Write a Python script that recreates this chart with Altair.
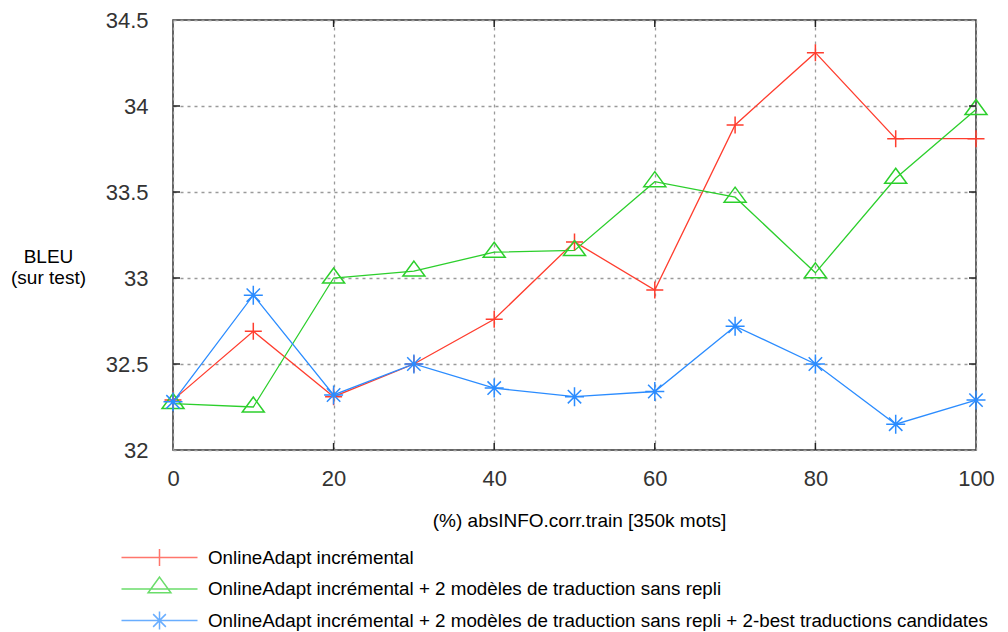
import altair as alt
import pandas as pd

# ---------------- data ----------------
pct = [0, 10, 20, 30, 40, 50, 60, 70, 80, 90, 100]
series_names = [
    "OnlineAdapt incrémental",
    "OnlineAdapt incrémental + 2 modèles de traduction sans repli",
    "OnlineAdapt incrémental + 2 modèles de traduction sans repli + 2-best traductions candidates",
]
bleu_red = [32.29, 32.69, 32.31, 32.50, 32.76, 33.21, 32.93, 33.89, 34.31, 33.81, 33.81]
bleu_green = [32.27, 32.25, 33.00, 33.04, 33.15, 33.16, 33.56, 33.47, 33.03, 33.58, 33.98]
bleu_blue = [32.28, 32.90, 32.32, 32.50, 32.36, 32.31, 32.34, 32.72, 32.50, 32.15, 32.29]
colors = ["#ff3d2e", "#2ccf2c", "#2b8cff"]

x_ticks = [0, 20, 40, 60, 80, 100]
y_ticks = [32, 32.5, 33, 33.5, 34, 34.5]
x_grid = [20, 40, 60, 80]
y_grid = [32.5, 33, 33.5, 34]

x_title = "(%) absINFO.corr.train [350k mots]"
y_title = ["BLEU", "(sur test)"]

# marker shapes (gnuplot style: plus, open triangle, asterisk)
marker_paths = [
    "M-0.85,0H0.85M0,-0.85V0.85",
    "M0,-1.0L1.1,0.5L-1.1,0.5Z",
    "M0,-0.95V0.95M-0.95,0H0.95M-0.67,-0.67L0.67,0.67M-0.67,0.67L0.67,-0.67",
]
pad = "M0,-1.25M0,1.25"
legend_paths = [
    pad + "M-4,0H4M0,-0.9V0.9",
    pad + "M-4,0H4M0,-1.25L1.2,0.4L-1.2,0.4Z",
    pad + "M-4,0H4M0,-0.95V0.95M-0.67,-0.67L0.67,0.67M-0.67,0.67L0.67,-0.67",
]

rows = []
for name, vals in zip(series_names, [bleu_red, bleu_green, bleu_blue]):
    for p, v in zip(pct, vals):
        rows.append({"pct": p, "bleu": v, "serie": name})
df = pd.DataFrame(rows)

FONT = "Liberation Sans"
W, H = 803, 430

xs = alt.Scale(domain=[0, 100], nice=False)
ys = alt.Scale(domain=[32, 34.5], nice=False, zero=False)
cs = alt.Scale(domain=series_names, range=colors)

x_axis = alt.Axis(
    values=x_ticks, ticks=False, domain=False, grid=True, labelFlush=False,
    gridDash=[3, 4], gridColor="#9a9a9a", gridWidth=1.3,
    labelFontSize=22, labelColor="#333333", labelPadding=18, labelFont=FONT,
    title=x_title, titleFontSize=19, titleFont=FONT, titleFontWeight="normal",
    titleColor="#000000", titleX=406, titleY=70, titleBaseline="middle", titleAlign="center",
)
y_axis = alt.Axis(
    values=y_ticks, format="~g", ticks=False, domain=False, grid=True, labelFlush=False,
    gridDash=[3, 4], gridColor="#9a9a9a", gridWidth=1.3,
    labelFontSize=22, labelColor="#333333", labelPadding=25, labelFont=FONT,
    title=y_title, titleFontSize=19, titleFont=FONT, titleFontWeight="normal",
    titleColor="#000000", titleAngle=0, titleX=-125, titleY=236,
    titleAlign="center", titleBaseline="middle", titleLineHeight=21,
)

base = alt.Chart(df)

layers = []
for i, (name, col) in enumerate(zip(series_names, colors)):
    sub = base.transform_filter(alt.datum.serie == name)
    if i == 0:
        xenc = alt.X("pct:Q", scale=xs, axis=x_axis)
        yenc = alt.Y("bleu:Q", scale=ys, axis=y_axis)
    else:
        xenc = alt.X("pct:Q", scale=xs)
        yenc = alt.Y("bleu:Q", scale=ys)
    layers.append(sub.mark_line(strokeWidth=1.3, color=col).encode(x=xenc, y=yenc))
for name, col, path in zip(series_names, colors, marker_paths):
    sub = base.transform_filter(alt.datum.serie == name)
    layers.append(
        sub.mark_point(shape=path, size=400, strokeWidth=1.5, filled=False,
                       opacity=1, color=col)
        .encode(x=alt.X("pct:Q", scale=xs), y=alt.Y("bleu:Q", scale=ys))
    )

leg = alt.Legend(
    title=None, orient="none", legendX=-24, legendY=527,
    symbolSize=361, symbolStrokeWidth=1.5, symbolOffset=0,
    labelFont=FONT, labelFontSize=18.8, labelColor="#000000", labelLimit=1000,
    labelOffset=38, rowPadding=0.5, padding=0,
)
legend_carrier = (
    base.transform_filter("false")
    .mark_point(filled=False)
    .encode(
        x=alt.X("pct:Q", scale=xs),
        y=alt.Y("bleu:Q", scale=ys),
        color=alt.Color("serie:N", scale=cs, legend=leg),
        shape=alt.Shape("serie:N", scale=alt.Scale(domain=series_names, range=legend_paths), legend=leg),
    )
)
layers.append(legend_carrier)

# inward tick marks on the frame (gnuplot style)
xg = alt.Chart(pd.DataFrame({"pct": x_grid}))
yg = alt.Chart(pd.DataFrame({"bleu": y_grid}))
tick_style = dict(color="#222222", strokeWidth=1.5)
layers += [
    xg.mark_rule(**tick_style).encode(
        x=alt.X("pct:Q", scale=xs), y=alt.value(H), y2=alt.value(H - 7)),
    xg.mark_rule(**tick_style).encode(
        x=alt.X("pct:Q", scale=xs), y=alt.value(0), y2=alt.value(7)),
    yg.mark_rule(**tick_style).encode(
        y=alt.Y("bleu:Q", scale=ys), x=alt.value(0), x2=alt.value(7)),
    yg.mark_rule(**tick_style).encode(
        y=alt.Y("bleu:Q", scale=ys), x=alt.value(W), x2=alt.value(W - 7)),
]

chart = (
    alt.layer(*layers)
    .properties(
        width=W, height=H,
        autosize=alt.AutoSizeParams(type="none"),
        padding={"left": 165, "top": 12, "right": 24, "bottom": 182},
        background="#ffffff",
    )
    .configure_view(stroke="#333333", strokeWidth=1.5)
)

chart.save("out.html", embed_options={"renderer": "svg", "actions": False})
